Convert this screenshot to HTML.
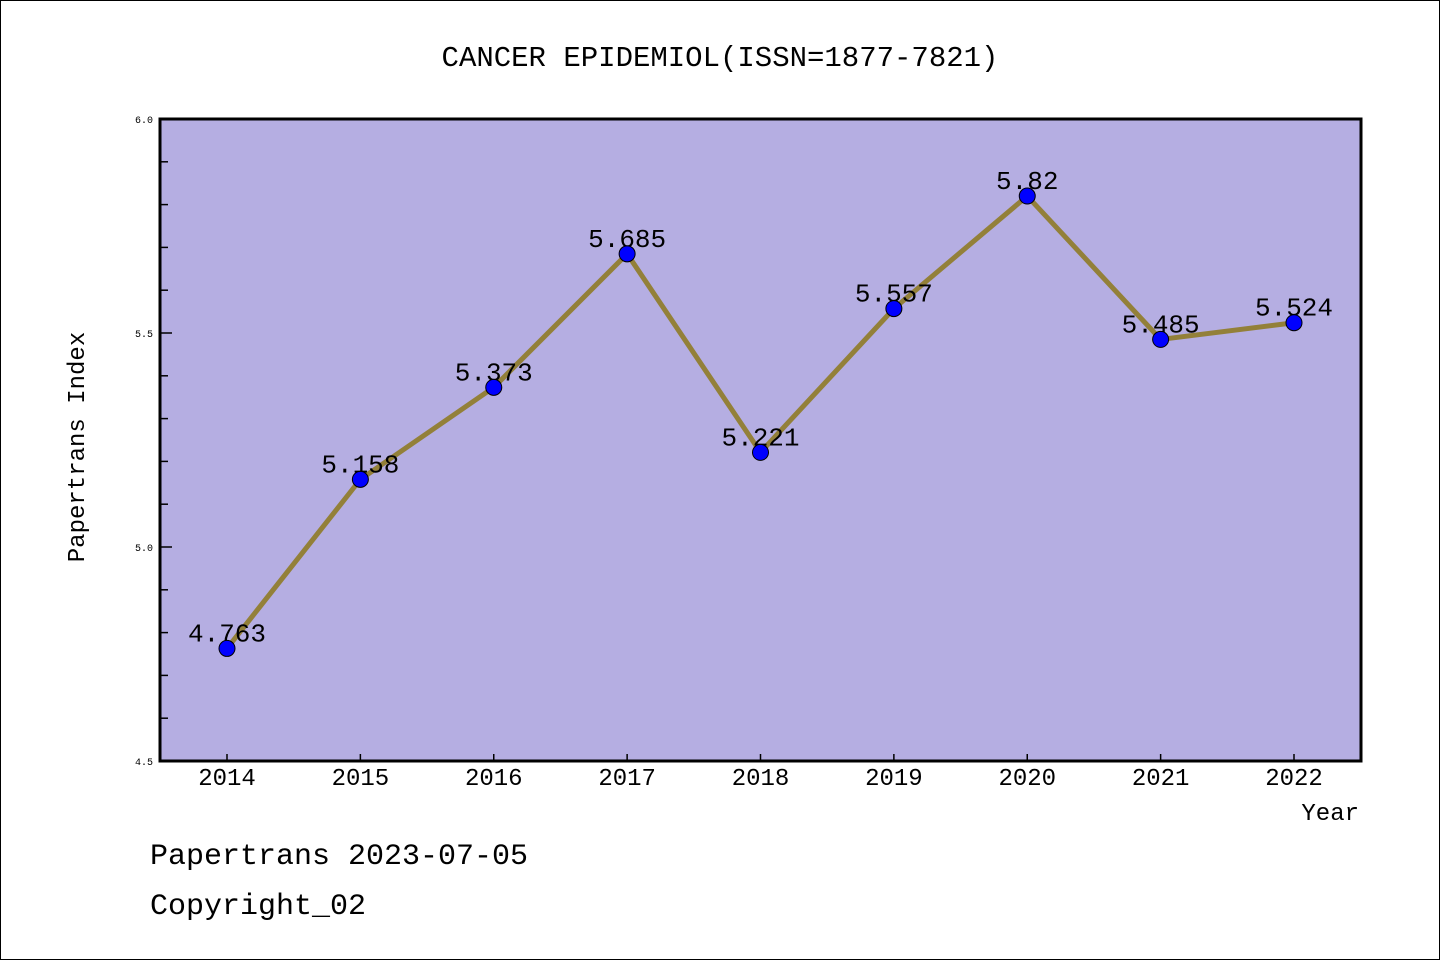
<!DOCTYPE html>
<html><head><meta charset="utf-8"><style>
html,body{margin:0;padding:0;background:#fff}
body{width:1440px;height:960px;overflow:hidden}
svg{display:block}
text{font-family:"Liberation Mono","Noto Sans CJK SC",monospace;fill:#000}
</style></head><body>
<svg id="chart" width="1440" height="960" xmlns="http://www.w3.org/2000/svg">
<rect x="0.5" y="0.5" width="1439" height="959" fill="#fff" stroke="#000" stroke-width="1"/>
<text x="720" y="66" font-size="29" text-anchor="middle">CANCER EPIDEMIOL(ISSN=1877-7821)</text>
<rect x="160" y="119" width="1201" height="642" fill="#b5aee2"/>
<g id="yticks"></g>
<g id="xticks"></g>
<g id="series"></g>
<rect x="160" y="119" width="1201" height="642" fill="none" stroke="#000" stroke-width="3"/>
<text x="84" y="447" font-size="24" text-anchor="middle" transform="rotate(-90 84 447)">Papertrans Index</text>
<text x="1359" y="820" font-size="24" text-anchor="end">Year</text>
<text x="150" y="864" font-size="30">Papertrans 2023-07-05</text>
<text x="150" y="914" font-size="30">Copyright_02</text>
</svg>
<script>
const years = [2014,2015,2016,2017,2018,2019,2020,2021,2022];
const values = [4.763,5.158,5.373,5.685,5.221,5.557,5.82,5.485,5.524];
const valueLabels = ["4.763","5.158","5.373","5.685","5.221","5.557","5.82","5.485","5.524"];
const yTicks = [4.5,5.0,5.5,6.0];
const yTickLabels = ["4.5","5.0","5.5","6.0"];
const yMin = 4.5, yMax = 6.0;
const NS = "http://www.w3.org/2000/svg";
function xPos(i){ return 227 + i * (1294 - 227) / (years.length - 1); }
function yPos(v){ return 761 - (v - yMin) / (yMax - yMin) * 642; }
function mk(tag, attrs, parent){ const e = document.createElementNS(NS, tag); for (const k in attrs) e.setAttribute(k, attrs[k]); parent.appendChild(e); return e; }
const yg = document.getElementById('yticks');
for (let k = 0; k <= 15; k++) {
  const v = yMin + k * 0.1;
  const major = k % 5 === 0;
  const t = mk('line', {x1:160, x2:major?172:168, y1:yPos(v), y2:yPos(v), stroke:'#000', 'stroke-width':1.5}, yg);
  
  
}
yTicks.forEach((v, i) => {
  const t = mk('text', {x:153, y:yPos(v)+4, 'font-size':10, 'text-anchor':'end'}, yg);
  t.textContent = yTickLabels[i];
  
  
});
const xg = document.getElementById('xticks');
years.forEach((yr, i) => {
  const l = mk('line', {x1:xPos(i), x2:xPos(i), y1:761, y2:754, stroke:'#000', 'stroke-width':1.5}, xg);
  
  
  const t = mk('text', {x:xPos(i), y:785, 'font-size':24, 'text-anchor':'middle'}, xg);
  t.textContent = yr;
  
  
});
const sg = document.getElementById('series');
const pts = values.map((v, i) => xPos(i) + ',' + yPos(v)).join(' ');
const pl = mk('polyline', {points:pts, fill:'none', stroke:'#938039', 'stroke-width':5, 'stroke-linejoin':'round'}, sg);


values.forEach((v, i) => {
  const t = mk('text', {x:xPos(i), y:yPos(v)-7, 'font-size':26, 'text-anchor':'middle'}, sg);
  t.textContent = valueLabels[i];
  
  
});
values.forEach((v, i) => {
  const c = mk('circle', {cx:xPos(i), cy:yPos(v), r:8, fill:'#0000ff', stroke:'#000', 'stroke-width':1}, sg);
  
  
});
</script>
</body></html>
